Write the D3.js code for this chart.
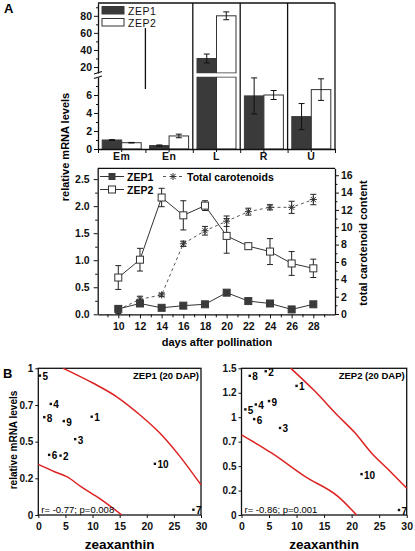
<!DOCTYPE html>
<html><head><meta charset="utf-8">
<script src="https://cdn.jsdelivr.net/npm/d3@7"></script>
<style>body{margin:0;background:#fff}svg{display:block}</style>
</head><body>
<script>
// ---------- Panel A (top): tissue mRNA levels ----------
const categories = ["Em","En","L","R","U"];
const zep1Levels = [1.0, 0.38, 30, 5.9, 3.6];
const zep1Err    = [0.04, 0.07, 5.2, 2.0, 1.45];
const zep2Levels = [0.7, 1.45, 80, 6.0, 6.6];
const zep2Err    = [0.03, 0.2, 4.6, 0.5, 1.2];
const lowTicks = [0,2,4,6];
const highTicks = [20,40,60,80];

// ---------- Panel A (middle): time course ----------
const days = [10,12,14,16,18,20,22,24,26,28];
const zep1Time = [0.10,0.20,0.12,0.16,0.185,0.40,0.245,0.20,0.09,0.185];
const zep2Time = [0.68,1.01,2.16,1.83,2.01,1.45,1.26,1.16,0.94,0.85];
const zep2TimeErr = [0.22,0.21,0.17,0.27,0.09,0.32,0.05,0.24,0.22,0.17];
const carotenoids = [0.5,1.7,2.2,8.1,9.6,10.7,11.8,12.3,12.3,13.2];
const carotenoidsErr = [0.45,0.35,0.2,0.3,0.5,0.6,0.4,0.3,0.7,0.6];
const dayTicks = [10,12,14,16,18,20,22,24,26,28];
const leftTicks = [0,0.5,1.0,1.5,2.0,2.5];
const rightTicks = [0,2,4,6,8,10,12,14,16];

// ---------- Panel B: scatter plots ----------
const sampleIds = ["1","2","3","4","5","6","7","8","9","10"];
const zeaxZep1 = [9.85,4.1,6.8,2.3,0.3,2.0,28.6,1.1,4.7,21.5];
const mrnaZep1 = [0.67,0.405,0.517,0.757,0.95,0.41,0.036,0.667,0.64,0.349];
const zeaxZep2 = [10.0,4.4,7.0,2.6,0.7,2.3,28.6,1.5,5.0,21.8];
const mrnaZep2 = [1.32,1.47,0.89,1.13,1.08,0.98,0.051,1.423,1.165,0.418];
const bandUpper1 = [[4.6,1.0],[10.15,0.898],[14.46,0.806],[18.76,0.682],[22.45,0.557],[26.14,0.398],[30,0.205]];
const bandLower1 = [[0,0.345],[3,0.295],[5.24,0.261],[8,0.19],[11.4,0.11],[15.4,0]];
const bandUpper2 = [[8.96,1.5],[13.3,1.267],[17.6,1.01],[20.6,0.84],[23.6,0.634],[26.7,0.462],[30,0.274]];
const bandLower2 = [[0,0.82],[3.0,0.72],[5.45,0.634],[11.5,0.394],[17.56,0.188],[20.9,0]];
const yTicks1 = [0,0.25,0.5,0.75,1];
const yTickLabels1 = ["0","0.2","0.5","0.7","1"];
const yTicks2 = [0,0.25,0.5,0.75,1,1.25,1.5];
const yTickLabels2 = ["0","0.2","0.5","0.7","1","1.2","1.5"];
const xTicksScatter = [0,5,10,15,20,25,30];

const FONT = "'Liberation Sans', Arial, Helvetica, sans-serif";
const DARK = "#3a3a3a";
const RED = "#dd2222";

const svg = d3.select("body").append("svg").attr("width",415).attr("height",551)
  .attr("font-family",FONT);

function styleAxis(g, size, weight){
  g.attr("font-family",FONT).attr("font-size",size).attr("font-weight",weight||"bold");
  g.selectAll("text").attr("fill","#111");
  g.selectAll("line").attr("stroke","#111");
  g.selectAll("path").attr("stroke","#111");
}
function minor(g){ g.select(".domain").remove(); g.selectAll("text").remove(); g.selectAll("line").attr("stroke","#111"); }

// ================= TOP BAR CHART =================
const L = 98, R = 335, T = 3, B = 149;
const xCat = d3.scaleBand().domain(categories).range([L,R]);
const xSub = d3.scaleBand().domain(["ZEP1","ZEP2"]).range([0,39]);
const subOff = (xCat.bandwidth()-39)/2;
const yLo = d3.scaleLinear().domain([0,8]).range([B,77]);
const yHi = d3.scaleLinear().domain([13,95]).range([73,T]);
const yV = v => v <= 8 ? yLo(v) : yHi(v);

const gTop = svg.append("g");
categories.forEach((c,i)=>{
  if(i===0) return;
  const x = xCat(c);
  if(i===1) gTop.append("line").attr("x1",x).attr("x2",x).attr("y1",28).attr("y2",89).attr("stroke","#111").attr("stroke-width",1.3);
  else gTop.append("line").attr("x1",x).attr("x2",x).attr("y1",T).attr("y2",B).attr("stroke","#111").attr("stroke-width",1.3);
});
gTop.append("line").attr("x1",L).attr("x2",R).attr("y1",T).attr("y2",T).attr("stroke","#111").attr("stroke-width",1.3);
gTop.append("line").attr("x1",R).attr("x2",R).attr("y1",T).attr("y2",B).attr("stroke","#111").attr("stroke-width",1.3);

const series = [
  {key:"ZEP1", vals:zep1Levels, err:zep1Err, fill:DARK, stroke:DARK},
  {key:"ZEP2", vals:zep2Levels, err:zep2Err, fill:"#fff", stroke:"#333"}
];
series.forEach(s=>{
  categories.forEach((c,i)=>{
    const v = s.vals[i];
    const x = xCat(c)+subOff+xSub(s.key), w = xSub.bandwidth();
    if(v<=8){
      gTop.append("rect").attr("x",x).attr("y",yLo(v)).attr("width",w).attr("height",yLo(0)-yLo(v))
        .attr("fill",s.fill).attr("stroke",s.stroke).attr("stroke-width",1);
    } else {
      gTop.append("rect").attr("x",x).attr("y",yLo(8)).attr("width",w).attr("height",yLo(0)-yLo(8))
        .attr("fill",s.fill).attr("stroke",s.stroke).attr("stroke-width",1);
      gTop.append("rect").attr("x",x).attr("y",yHi(v)).attr("width",w).attr("height",yHi(13)-yHi(v))
        .attr("fill",s.fill).attr("stroke",s.stroke).attr("stroke-width",1);
      gTop.append("rect").attr("x",x-1).attr("y",yHi(13)+0.5).attr("width",w+2).attr("height",yLo(8)-yHi(13)-1).attr("fill","#fff");
    }
    const cx = x+w/2, e = s.err[i];
    const y1 = yV(v+e), y2 = yV(Math.max(0,v-e));
    gTop.append("line").attr("x1",cx).attr("x2",cx).attr("y1",y1).attr("y2",y2).attr("stroke","#111").attr("stroke-width",1);
    [y1,y2].forEach(yy=>gTop.append("line").attr("x1",cx-3).attr("x2",cx+3).attr("y1",yy).attr("y2",yy).attr("stroke","#111").attr("stroke-width",1));
  });
});
const gLo = gTop.append("g").attr("transform",`translate(${L},0)`)
  .call(d3.axisLeft(yLo).tickValues(lowTicks).tickSize(4).tickPadding(2).tickSizeOuter(0));
styleAxis(gLo,10.5); gLo.select(".domain").attr("stroke-width",1.3);
gTop.append("g").attr("transform",`translate(${L},0)`).call(d3.axisLeft(yLo).tickValues([1,3,5,7]).tickSize(2)).call(minor);
const gHi = gTop.append("g").attr("transform",`translate(${L},0)`)
  .call(d3.axisLeft(yHi).tickValues(highTicks).tickSize(4).tickPadding(2).tickSizeOuter(0));
styleAxis(gHi,10.5); gHi.select(".domain").attr("stroke-width",1.3);
gTop.append("g").attr("transform",`translate(${L},0)`).call(d3.axisLeft(yHi).tickValues([30,50,70,90]).tickSize(2)).call(minor);
gTop.append("path").attr("d",`M${L-4},${yHi(13)+1} L${L+4},${yHi(13)-1.5} M${L-4},${yLo(8)+1.5} L${L+4},${yLo(8)-1}`)
  .attr("stroke","#111").attr("stroke-width",1.2).attr("fill","none");
const gX = gTop.append("g").attr("transform",`translate(0,${B})`)
  .call(d3.axisBottom(xCat).tickSize(3).tickPadding(1).tickSizeOuter(0));
styleAxis(gX,10.5,"normal"); gX.select(".domain").attr("stroke-width",1.3);
gX.selectAll("text").attr("font-weight","bold").attr("letter-spacing","0.5");
gTop.append("g").attr("transform",`translate(0,${B})`)
  .call(d3.axisBottom(d3.scalePoint().domain(d3.range(6)).range([L,R])).tickSize(4)).call(minor);
gTop.append("rect").attr("x",102).attr("y",6.5).attr("width",22).attr("height",7.5).attr("fill",DARK).attr("stroke",DARK);
gTop.append("rect").attr("x",102).attr("y",18.5).attr("width",22).attr("height",7.5).attr("fill","#fff").attr("stroke","#333");
gTop.append("text").attr("x",128).attr("y",14.5).text("ZEP1").attr("font-size",10.5).attr("letter-spacing","0.5").attr("fill","#111");
gTop.append("text").attr("x",128).attr("y",26.5).text("ZEP2").attr("font-size",10.5).attr("letter-spacing","0.5").attr("fill","#111");

// ================= MIDDLE LINE CHART =================
const mL = 97.7, mR = 335, mT = 168.3, mB = 314.3;
const xD = d3.scaleLinear().domain([8.1,30]).range([mL,mR]);
const yL = d3.scaleLinear().domain([0,2.7]).range([mB,mT]);
const yR = d3.scaleLinear().domain([0,16.8]).range([mB-0.3,mT]);
const mid = svg.append("g");
mid.append("line").attr("x1",mL).attr("x2",mR).attr("y1",mT).attr("y2",mT).attr("stroke","#111").attr("stroke-width",1.3);
const gmx = mid.append("g").attr("transform",`translate(0,${mB})`).call(d3.axisBottom(xD).tickValues(dayTicks).tickSize(4).tickPadding(4).tickSizeOuter(0));
styleAxis(gmx,10.5); gmx.select(".domain").attr("stroke-width",1.3);
mid.append("g").attr("transform",`translate(0,${mB})`).call(d3.axisBottom(xD).tickValues([9,11,13,15,17,19,21,23,25,27,29]).tickSize(3)).call(minor);
const gml = mid.append("g").attr("transform",`translate(${mL},0)`).call(d3.axisLeft(yL).tickValues(leftTicks).tickFormat(d3.format(".1f")).tickSize(4).tickPadding(4).tickSizeOuter(0));
styleAxis(gml,10.5); gml.select(".domain").attr("stroke-width",1.3);
mid.append("g").attr("transform",`translate(${mL},0)`).call(d3.axisLeft(yL).tickValues([0.25,0.75,1.25,1.75,2.25]).tickSize(2.5)).call(minor);
const gmr = mid.append("g").attr("transform",`translate(${mR},0)`).call(d3.axisRight(yR).tickValues(rightTicks).tickSize(4).tickPadding(2).tickSizeOuter(0));
styleAxis(gmr,10.5); gmr.select(".domain").attr("stroke-width",1.3);
mid.append("g").attr("transform",`translate(${mR},0)`).call(d3.axisRight(yR).tickValues([1,3,5,7,9,11,13,15]).tickSize(2.5)).call(minor);

function errBar(g,x,y1,y2){
  g.append("line").attr("x1",x).attr("x2",x).attr("y1",y1).attr("y2",y2).attr("stroke","#222").attr("stroke-width",1);
  [y1,y2].forEach(yy=>g.append("line").attr("x1",x-3).attr("x2",x+3).attr("y1",yy).attr("y2",yy).attr("stroke","#222").attr("stroke-width",1));
}
function asterisk(g,x,y,r){
  const d = `M${x-r},${y}L${x+r},${y}M${x},${y-r}L${x},${y+r}M${x-r*0.75},${y-r*0.75}L${x+r*0.75},${y+r*0.75}M${x-r*0.75},${y+r*0.75}L${x+r*0.75},${y-r*0.75}`;
  g.append("path").attr("d",d).attr("stroke","#333").attr("stroke-width",1).attr("fill","none");
}
mid.append("path").datum(days.map((d,i)=>[d,carotenoids[i]]))
  .attr("d",d3.line().x(d=>xD(d[0])).y(d=>yR(d[1])))
  .attr("fill","none").attr("stroke","#555").attr("stroke-width",1).attr("stroke-dasharray","3,3");
days.forEach((d,i)=>{ errBar(mid,xD(d),yR(carotenoids[i]+carotenoidsErr[i]),yR(Math.max(0,carotenoids[i]-carotenoidsErr[i]))); });
mid.append("path").datum(days.map((d,i)=>[d,zep2Time[i]]))
  .attr("d",d3.line().x(d=>xD(d[0])).y(d=>yL(d[1])))
  .attr("fill","none").attr("stroke","#333").attr("stroke-width",1);
days.forEach((d,i)=>{ errBar(mid,xD(d),yL(zep2Time[i]+zep2TimeErr[i]),yL(zep2Time[i]-zep2TimeErr[i])); });
mid.append("path").datum(days.map((d,i)=>[d,zep1Time[i]]))
  .attr("d",d3.line().x(d=>xD(d[0])).y(d=>yL(d[1])))
  .attr("fill","none").attr("stroke","#333").attr("stroke-width",1);
days.forEach((d,i)=>{ asterisk(mid,xD(d),yR(carotenoids[i]),3.5); });
days.forEach((d,i)=>{
  mid.append("rect").attr("x",xD(d)-3.5).attr("y",yL(zep2Time[i])-3.5).attr("width",7).attr("height",7).attr("fill","#fff").attr("stroke","#333");
  mid.append("rect").attr("x",xD(d)-3.5).attr("y",yL(zep1Time[i])-3.5).attr("width",7).attr("height",7).attr("fill",DARK).attr("stroke",DARK);
});
const lg = mid.append("g");
lg.append("line").attr("x1",100).attr("x2",124).attr("y1",176.5).attr("y2",176.5).attr("stroke","#333");
lg.append("rect").attr("x",108.5).attr("y",173).attr("width",7).attr("height",7).attr("fill",DARK);
lg.append("text").attr("x",127).attr("y",180.5).text("ZEP1").attr("font-size",10.5).attr("font-weight","bold");
lg.append("line").attr("x1",163).attr("x2",183).attr("y1",176.5).attr("y2",176.5).attr("stroke","#555").attr("stroke-dasharray","3,5");
asterisk(lg,173,176.5,3.5);
lg.append("text").attr("x",187).attr("y",180.5).text("Total carotenoids").attr("font-size",10.5).attr("font-weight","bold");
lg.append("line").attr("x1",100).attr("x2",124).attr("y1",189.5).attr("y2",189.5).attr("stroke","#333");
lg.append("rect").attr("x",108.5).attr("y",186).attr("width",7).attr("height",7).attr("fill","#fff").attr("stroke","#333");
lg.append("text").attr("x",127).attr("y",193.5).text("ZEP2").attr("font-size",10.5).attr("font-weight","bold");
svg.append("text").attr("transform","translate(69,147) rotate(-90)").attr("text-anchor","middle")
  .attr("font-size",11).attr("font-weight","bold").text("relative mRNA levels");
svg.append("text").attr("transform","translate(367,243) rotate(-90)").attr("text-anchor","middle")
  .attr("font-size",11).attr("font-weight","bold").text("total carotenoid content");
svg.append("text").attr("x",217).attr("y",345.5).attr("text-anchor","middle")
  .attr("font-size",11).attr("font-weight","bold").text("days after pollination");
svg.append("text").attr("x",4).attr("y",13).attr("font-size",13).attr("font-weight","bold").text("A");
svg.append("text").attr("x",3).attr("y",378).attr("font-size",13).attr("font-weight","bold").text("B");

// ================= SCATTER PLOTS =================
function scatter(x0,x1,yMax,yt,ytl,zx,my,upper,lower,title,stat){
  const sT = 368.3, sB = 515;
  const x = d3.scaleLinear().domain([0,30]).range([x0,x1]);
  const y = d3.scaleLinear().domain([0,yMax]).range([sB,sT]);
  const g = svg.append("g");
  g.append("rect").attr("x",x0).attr("y",sT).attr("width",x1-x0).attr("height",sB-sT).attr("fill","none").attr("stroke","#111").attr("stroke-width",1.3);
  const line = d3.line().x(d=>x(d[0])).y(d=>y(d[1])).curve(d3.curveMonotoneX);
  g.append("path").datum(upper).attr("d",line).attr("fill","none").attr("stroke",RED).attr("stroke-width",1.5);
  g.append("path").datum(lower).attr("d",line).attr("fill","none").attr("stroke",RED).attr("stroke-width",1.5);
  const gy = g.append("g").attr("transform",`translate(${x0},0)`)
    .call(d3.axisLeft(y).tickValues(yt).tickFormat((d,i)=>ytl[i]).tickSize(3).tickPadding(2).tickSizeOuter(0));
  styleAxis(gy,10); gy.select(".domain").remove();
  const gx = g.append("g").attr("transform",`translate(0,${sB})`)
    .call(d3.axisBottom(x).tickValues(xTicksScatter).tickSize(3).tickPadding(5).tickSizeOuter(0));
  styleAxis(gx,10.5); gx.select(".domain").remove();
  sampleIds.forEach((id,i)=>{
    const px = x(zx[i]), py = y(my[i]);
    g.append("rect").attr("x",px-1.2).attr("y",py-1.2).attr("width",2.4).attr("height",2.4).attr("fill","#111");
    g.append("text").attr("x",px+2.5).attr("y",py+4.5).attr("font-size",10).attr("font-weight","bold").text(id);
  });
  g.append("text").attr("x",x1-2).attr("y",379).attr("text-anchor","end").attr("font-size",9.5).attr("font-weight","bold").text(title);
  g.append("text").attr("x",x0+3).attr("y",512.5).attr("font-size",9.5).text(stat);
  g.append("text").attr("x",(x0+x1)/2).attr("y",549).attr("text-anchor","middle").attr("font-size",13.5).attr("font-weight","bold").text("zeaxanthin");
}
scatter(38.3,201,1,yTicks1,yTickLabels1,zeaxZep1,mrnaZep1,bandUpper1,bandLower1,"ZEP1 (20 DAP)","r= -0.77; p=0.008");
scatter(241.5,406.7,1.5,yTicks2,yTickLabels2,zeaxZep2,mrnaZep2,bandUpper2,bandLower2,"ZEP2 (20 DAP)","r= -0.86; p=0.001");
svg.append("text").attr("transform","translate(17,440) rotate(-90)").attr("text-anchor","middle")
  .attr("font-size",10).attr("font-weight","bold").text("relative mRNA levels");
</script>
</body></html>
